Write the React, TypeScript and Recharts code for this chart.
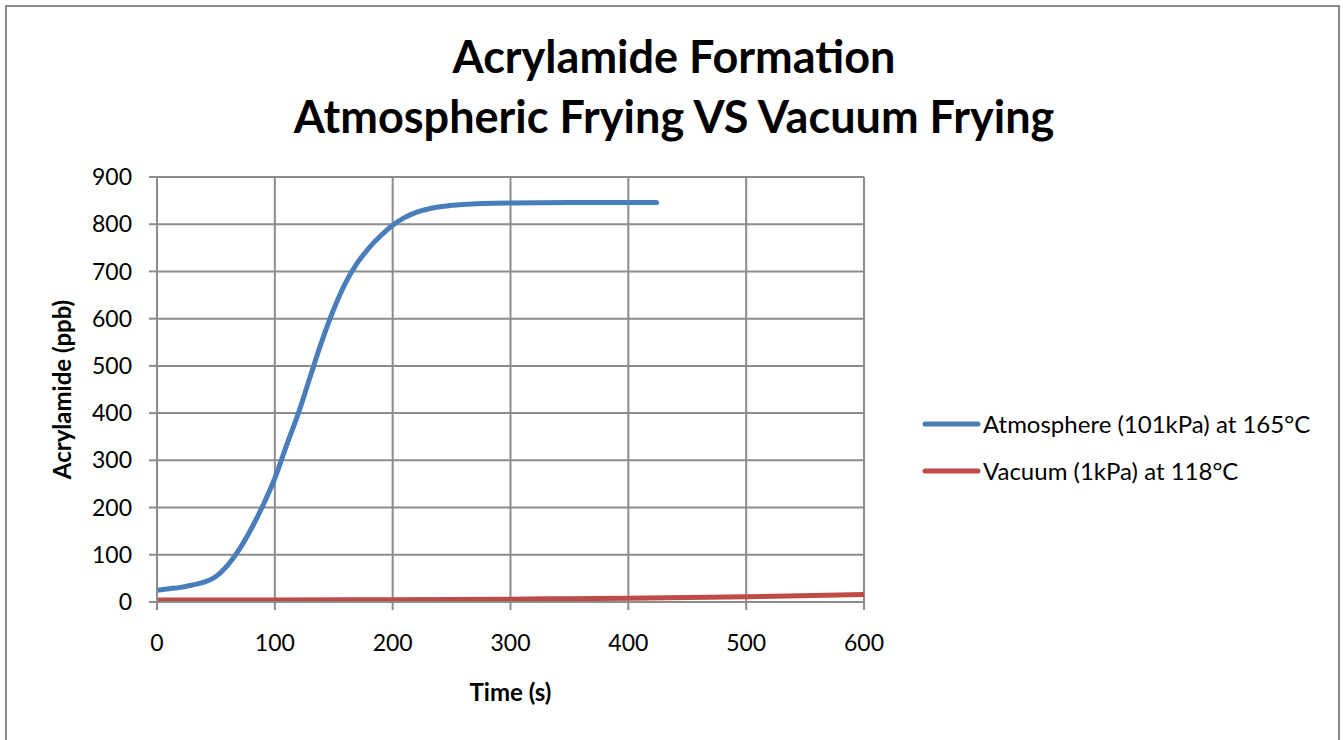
import React from "react";
import {
  LineChart,
  Line,
  XAxis,
  YAxis,
  CartesianGrid,
  Legend,
  Label,
} from "recharts";

// Atmospheric frying at 101 kPa / 165 °C
const atmosphereTime = [0, 10, 20, 30, 40, 50, 60, 70, 80, 90, 100, 110, 120, 130, 140, 150, 160, 170, 180, 190, 200, 210, 220, 240, 260, 300, 350, 424];
const atmosphereAcrylamide = [25, 28, 31, 36, 42, 54, 78, 112, 155, 205, 262, 332, 400, 477, 553, 620, 676, 718, 750, 776, 798, 814, 825, 837, 842, 845, 846, 846];

// Vacuum frying at 1 kPa / 118 °C
const vacuumTime = [0, 100, 200, 300, 350, 400, 500, 600];
const vacuumAcrylamide = [4, 4, 5, 6, 7, 8, 11, 16];

const timeTicks = [0, 100, 200, 300, 400, 500, 600];
const acrylamideTicks = [0, 100, 200, 300, 400, 500, 600, 700, 800, 900];

const seriesNames = ["Atmosphere (101kPa) at 165°C", "Vacuum (1kPa) at 118°C"];
const seriesColors = ["#4a7ebb", "#be4b48"];

const atmosphereData = atmosphereTime.map((t, i) => ({ t, v: atmosphereAcrylamide[i] }));
const vacuumData = vacuumTime.map((t, i) => ({ t, v: vacuumAcrylamide[i] }));

const FONT = "Lato, 'Open Sans', sans-serif";
const GRID = "#8c8c8c";

function LegendBox() {
  return (
    <div style={{ fontFamily: FONT, fontSize: 24, color: "#000" }}>
      {seriesNames.map((name, i) => (
        <div key={name} style={{ display: "flex", alignItems: "center", height: 47 }}>
          <svg width={61} height={10}>
            <line x1={3} y1={5} x2={56} y2={5} stroke={seriesColors[i]} strokeWidth={5} strokeLinecap="round" />
          </svg>
          <span style={{ whiteSpace: "nowrap" }}>{name}</span>
        </div>
      ))}
    </div>
  );
}

function YTitle(props: any) {
  const vb = props.viewBox;
  const cx = vb.x + 13;
  const cy = vb.y + vb.height / 2;
  return (
    <text
      x={cx}
      y={cy}
      transform={`rotate(-90, ${cx}, ${cy})`}
      textAnchor="middle"
      dominantBaseline="central"
      fontFamily={FONT}
      fontWeight={700}
      fontSize={24}
      fill="#000"
    >
      Acrylamide (ppb)
    </text>
  );
}

export default function App() {
  return (
    <div style={{ position: "relative", width: 1343, height: 740, background: "#fff", overflow: "hidden" }}>
      <style>{`body{margin:0;overflow:hidden;}`}</style>
      <div
        style={{
          position: "absolute",
          left: 5,
          top: 5,
          width: 1335,
          height: 800,
          border: "2px solid #8a8a8a",
          boxSizing: "border-box",
        }}
      />
      <div
        style={{
          position: "absolute",
          left: 0,
          top: 26,
          width: 1348,
          textAlign: "center",
          fontFamily: FONT,
          fontWeight: 700,
          fontSize: 45,
          lineHeight: "60px",
          color: "#000",
        }}
      >
        <div>Acrylamide Formation</div>
        <div>Atmospheric Frying VS Vacuum Frying</div>
      </div>
      <div style={{ position: "absolute", left: 0, top: 0 }}>
        <LineChart
          width={1343}
          height={740}
          margin={{ top: 177, right: 479, bottom: 54, left: 48 }}
        >
          <CartesianGrid stroke={GRID} strokeWidth={2} />
          <XAxis
            type="number"
            dataKey="t"
            domain={[0, 600]}
            ticks={timeTicks}
            allowDataOverflow
            height={84}
            tickSize={8}
            tickMargin={25}
            stroke={GRID}
            strokeWidth={2}
            tick={{ fill: "#000", fontSize: 23, fontFamily: FONT }}
          >
            <Label
              value="Time (s)"
              position="bottom"
              offset={-2}
              style={{ fontFamily: FONT, fontWeight: 700, fontSize: 24, fill: "#000" }}
            />
          </XAxis>
          <YAxis
            type="number"
            domain={[0, 900]}
            ticks={acrylamideTicks}
            width={109}
            tickSize={8}
            tickMargin={17}
            stroke={GRID}
            strokeWidth={2}
            tick={{ fill: "#000", fontSize: 23, fontFamily: FONT }}
          >
            <Label content={<YTitle />} />
          </YAxis>
          <Line
            data={atmosphereData}
            dataKey="v"
            name={seriesNames[0]}
            type="monotone"
            stroke={seriesColors[0]}
            strokeWidth={5}
            strokeLinecap="round"
            dot={false}
            activeDot={false}
            isAnimationActive={false}
          />
          <Line
            data={vacuumData}
            dataKey="v"
            name={seriesNames[1]}
            type="monotone"
            stroke={seriesColors[1]}
            strokeWidth={5}
            strokeLinecap="round"
            dot={false}
            activeDot={false}
            isAnimationActive={false}
          />
          <Legend
            layout="horizontal"
            verticalAlign="middle"
            content={<LegendBox />}
            wrapperStyle={{ position: "absolute", left: 922, top: 400, width: 420 }}
          />
        </LineChart>
      </div>
    </div>
  );
}
